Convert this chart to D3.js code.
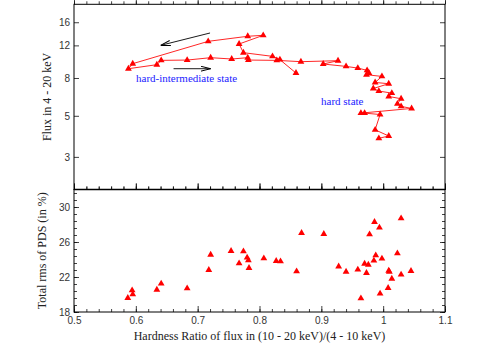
<!DOCTYPE html>
<html>
<head>
<meta charset="utf-8">
<title>Hardness - flux - rms</title>
<script src="https://cdn.jsdelivr.net/npm/d3@7"></script>
<style>
  body { margin: 0; background: #fff; }
</style>
</head>
<body>
<script>
// hardness ratio / flux track (top panel), in the order the line joins them
var hrTop = [0.859, 0.833, 0.821, 0.774, 0.767, 0.806, 0.781, 0.717, 0.595, 0.588,
             0.634, 0.641, 0.683, 0.721, 0.755, 0.781, 0.782, 0.828, 0.867, 0.927,
             0.903, 0.940, 0.959, 0.974, 0.977, 0.973, 0.998, 0.987, 1.009, 0.984,
             0.993, 1.014, 1.009, 1.029, 1.023, 1.029, 1.046, 0.964, 0.970, 0.995,
             0.987, 1.009, 0.993];
var fluxTop = [8.51, 10.05, 10.47, 10.96, 12.21, 13.6, 13.44, 12.62, 9.56, 8.98,
               9.44, 9.96, 10.0, 10.3, 10.13, 10.3, 10.0, 9.96, 9.80, 9.92,
               9.52, 9.24, 9.05, 8.80, 8.51, 8.33, 8.16, 7.57, 7.45, 7.02,
               6.80, 6.63, 6.36, 6.18, 5.80, 5.62, 5.48, 5.17, 5.17, 5.08,
               4.20, 3.89, 3.78];

// hardness ratio / total rms (bottom panel)
var hrBot = [0.587, 0.594, 0.595, 0.634, 0.641, 0.683, 0.718, 0.721, 0.754, 0.774,
             0.767, 0.780, 0.782, 0.783, 0.807, 0.827, 0.834, 0.860, 0.868, 0.904,
             0.928, 0.940, 0.959, 0.964, 0.970, 0.976, 0.973, 0.978, 0.986, 0.994,
             0.985, 0.988, 0.998, 0.995, 1.008, 1.009, 1.010, 1.014, 1.023, 1.029,
             1.029, 1.045];
var rmsBot = [19.6, 20.48, 20.02, 20.55, 21.24, 20.7, 22.8, 24.55, 24.97, 24.93,
              23.56, 24.21, 23.9, 23.03, 24.13, 23.83, 23.79, 22.65, 27.03, 26.91,
              23.2, 22.6, 22.84, 19.56, 23.52, 23.4, 22.46, 26.88, 28.29, 27.64,
              23.87, 24.48, 24.1, 20.1, 20.74, 22.72, 22.6, 21.8, 24.7, 22.27,
              28.7, 22.69];

var xTicks = [0.5, 0.6, 0.7, 0.8, 0.9, 1, 1.1];
var xTickLabels = ["0.5", "0.6", "0.7", "0.8", "0.9", "1", "1.1"];
var fluxTicks = [3, 5, 8, 12, 16];
var rmsTicks = [18, 22, 26, 30];

var width = 491, height = 343;
var pLeft = 74, pRight = 445, pTop = 4.3, pMid = 189.5, pBottom = 312;

var svg = d3.select("body").append("svg")
    .attr("width", width)
    .attr("height", height)
    .style("font-family", "'Liberation Sans', Arial, sans-serif");

var x = d3.scaleLinear().domain([0.5, 1.1]).range([pLeft, pRight]);
var yTop = d3.scaleLog().domain([2, 20]).range([pMid, pTop]);
var yBot = d3.scaleLinear().domain([18, 32]).range([pBottom, pMid]);

var xMinor = d3.range(0.5, 1.1001, 0.02);
var rmsMinor = d3.range(18, 32.001, 0.8);

// draws an axis with ticks pointing into the panel
function ticks(axisFn, scale, values, size, pos, labels) {
  var ax = axisFn(scale).tickValues(values).tickSize(size).tickPadding(4);
  if (labels) ax.tickFormat(function(d, i) { return labels[i]; });
  else ax.tickFormat("");
  var g = svg.append("g").attr("transform", pos).call(ax);
  g.select(".domain").remove();
  g.selectAll("line").attr("stroke", "#111").attr("stroke-width", 0.8);
  g.selectAll("text").attr("fill", "#333").style("font-size", "10px");
  if (!labels) g.selectAll("text").remove();
  return g;
}

// x ticks on all four horizontal edges
[[d3.axisBottom, pTop, -1], [d3.axisTop, pMid, 1],
 [d3.axisBottom, pMid, -1], [d3.axisTop, pBottom, 1]].forEach(function(e) {
  ticks(e[0], x, xMinor, e[2] * 3, "translate(0," + e[1] + ")");
  ticks(e[0], x, xTicks, e[2] * 6, "translate(0," + e[1] + ")");
});
var xl = ticks(d3.axisBottom, x, xTicks, 0, "translate(0," + pBottom + ")", xTickLabels);
xl.selectAll("text").attr("dy", "0.75em");

// y ticks
ticks(d3.axisLeft, yTop, fluxTicks, -5, "translate(" + pLeft + ",0)", fluxTicks.map(String));
ticks(d3.axisRight, yTop, fluxTicks, -5, "translate(" + pRight + ",0)");
ticks(d3.axisLeft, yBot, rmsMinor, -3, "translate(" + pLeft + ",0)");
ticks(d3.axisRight, yBot, rmsMinor, -3, "translate(" + pRight + ",0)");
ticks(d3.axisLeft, yBot, rmsTicks, -5, "translate(" + pLeft + ",0)", rmsTicks.map(String));
ticks(d3.axisRight, yBot, rmsTicks, -5, "translate(" + pRight + ",0)");

// frames
svg.append("rect").attr("x", pLeft).attr("y", pTop).attr("width", pRight - pLeft).attr("height", pMid - pTop)
    .attr("fill", "none").attr("stroke", "#000").attr("stroke-width", 1);
svg.append("rect").attr("x", pLeft).attr("y", pMid).attr("width", pRight - pLeft).attr("height", pBottom - pMid)
    .attr("fill", "none").attr("stroke", "#000").attr("stroke-width", 1);
svg.append("line").attr("x1", pLeft).attr("x2", pRight).attr("y1", pMid).attr("y2", pMid)
    .attr("stroke", "#000").attr("stroke-width", 1.6);

// top panel track
var topData = hrTop.map(function(d, i) { return [d, fluxTop[i]]; });
svg.append("path")
    .datum(topData)
    .attr("d", d3.line().x(function(d) { return x(d[0]); }).y(function(d) { return yTop(d[1]); }))
    .attr("fill", "none")
    .attr("stroke", "#f00")
    .attr("stroke-width", 1)
    .attr("stroke-opacity", 0.85);

var tri = d3.symbol().type(d3.symbolTriangle).size(20);
svg.append("g").selectAll("path")
    .data(topData)
    .enter().append("path")
    .attr("d", tri)
    .attr("transform", function(d) { return "translate(" + x(d[0]) + "," + yTop(d[1]) + ")"; })
    .attr("fill", "#f00");

var botData = hrBot.map(function(d, i) { return [d, rmsBot[i]]; });
svg.append("g").selectAll("path")
    .data(botData)
    .enter().append("path")
    .attr("d", tri)
    .attr("transform", function(d) { return "translate(" + x(d[0]) + "," + yBot(d[1]) + ")"; })
    .attr("fill", "#f00");

// arrows
svg.append("defs").append("marker")
    .attr("id", "head")
    .attr("viewBox", "0 0 10 6")
    .attr("refX", 10).attr("refY", 3)
    .attr("markerWidth", 10).attr("markerHeight", 6)
    .attr("markerUnits", "userSpaceOnUse")
    .attr("orient", "auto")
    .append("path")
    .attr("d", "M0,0.5L10,3L0,5.5")
    .attr("fill", "none")
    .attr("stroke", "#000")
    .attr("stroke-width", 1);

[[0.720, 14.0, 0.640, 12.0], [0.661, 8.98, 0.721, 8.98]].forEach(function(a) {
  svg.append("line")
      .attr("x1", x(a[0])).attr("y1", yTop(a[1]))
      .attr("x2", x(a[2])).attr("y2", yTop(a[3]))
      .attr("stroke", "#000")
      .attr("stroke-width", 0.9)
      .attr("marker-end", "url(#head)");
});

// state labels
var serif = "'Liberation Serif', 'Times New Roman', serif";
svg.append("text").attr("x", 136).attr("y", 82)
    .style("font-family", serif)
    .style("font-size", "11px").attr("fill", "#2222ff")
    .text("hard-intermediate state");
svg.append("text").attr("x", 321).attr("y", 105)
    .style("font-family", serif)
    .style("font-size", "11px").attr("fill", "#2222ff")
    .text("hard state");

// axis titles
svg.append("text")
    .attr("transform", "translate(51," + ((pTop + pMid) / 2) + ") rotate(-90)")
    .attr("text-anchor", "middle")
    .style("font-family", serif).style("font-size", "12px").attr("fill", "#222")
    .text("Flux in 4 - 20 keV");
svg.append("text")
    .attr("transform", "translate(46," + ((pMid + pBottom) / 2) + ") rotate(-90)")
    .attr("text-anchor", "middle")
    .style("font-family", serif).style("font-size", "12px").attr("fill", "#222")
    .text("Total rms of PDS (in %)");
svg.append("text")
    .attr("x", (pLeft + pRight) / 2).attr("y", 340)
    .attr("text-anchor", "middle")
    .style("font-family", serif).style("font-size", "12px").attr("fill", "#222")
    .text("Hardness Ratio of flux in (10 - 20 keV)/(4 - 10 keV)");
</script>
</body>
</html>
